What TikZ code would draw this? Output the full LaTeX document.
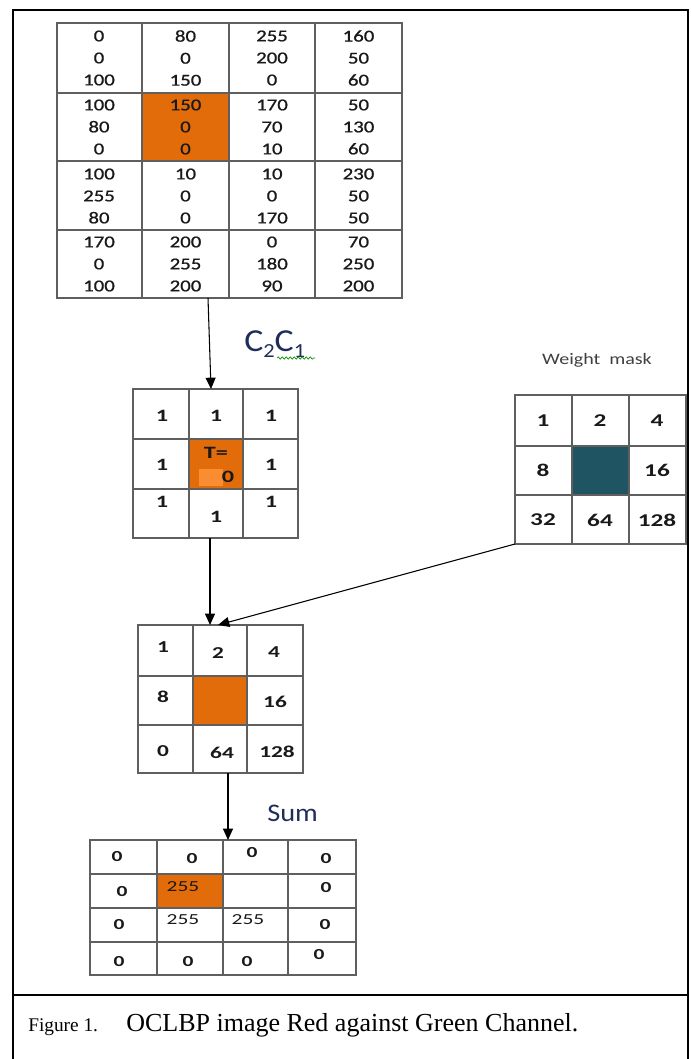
\documentclass[tikz,border=0pt]{standalone}
\usepackage{fontspec}
\usetikzlibrary{arrows.meta,decorations.pathmorphing}
\setmainfont{Liberation Serif}
\newfontfamily\calA[FakeStretch=1.25]{Carlito}
\newfontfamily\calT[FakeStretch=1.25,FakeBold=0.9]{Carlito}
\newfontfamily\calB[FakeStretch=1.4]{Carlito}
\newfontfamily\calC[FakeStretch=1.12]{Carlito}
\definecolor{orng}{RGB}{227,108,10}
\definecolor{lorng}{RGB}{250,140,50}
\definecolor{teal2}{RGB}{31,85,99}
\definecolor{gline}{RGB}{95,95,95}
\definecolor{navy}{RGB}{31,45,90}
\definecolor{txt}{RGB}{25,25,25}
\tikzset{
  gridline/.style={draw=gline,line width=1.1pt},
  topnum/.style={font=\calT\fontsize{12.5}{16.5}\selectfont,text=txt,align=center,inner sep=0pt},
  boldnum/.style={font=\calB\bfseries\fontsize{12.5}{14}\selectfont,text=txt,inner sep=0pt},
  midnum/.style={font=\calB\bfseries\fontsize{13}{15}\selectfont,text=txt,inner sep=0pt},
  bignum/.style={font=\calB\bfseries\fontsize{13.5}{16}\selectfont,text=txt,inner sep=0pt},
  smallnum/.style={font=\calB\bfseries\fontsize{11.5}{13}\selectfont,text=txt,inner sep=0pt},
  smallreg/.style={font=\calB\fontsize{11.5}{13}\selectfont,text=txt,inner sep=0pt},
  flow/.style={draw=black,line width=0.8pt,-{Triangle[length=8.5pt,width=7.5pt]}},
  frame/.style={draw=black,line width=1.6pt}
}
\begin{document}
\begin{tikzpicture}[x=0.75pt,y=-0.75pt]
\useasboundingbox (0,0) rectangle (691,1059);
% outer frame and caption divider
\draw[frame] (13,1059) -- (13,10) -- (688,10) -- (688,1059);
\draw[frame] (13,995) -- (688,995);
\node[anchor=base west,inner sep=0pt,font=\fontsize{14.5}{18}\selectfont] (figlab) at (28,1031) {Figure 1.};
\node[anchor=base west,inner sep=0pt,font=\fontsize{19.5}{23}\selectfont] (captxt) at (126,1031) {OCLBP image Red against Green Channel.};

% ---------- top grid (A) ----------
\fill[orng] (142,93) rectangle (229,161);
\draw[gridline] (57,23) rectangle (402,298);
\foreach \x in {142,229,315} \draw[gridline] (\x,23) -- (\x,298);
\foreach \y in {93,161,230} \draw[gridline] (57,\y) -- (402,\y);
\foreach \t [count=\i] in {{0\\0\\100},{80\\0\\150},{255\\200\\0},{160\\50\\60}}
  \node[topnum] (a1\i) at ({99+(\i-1)*86.5},58) {\t};
\foreach \t [count=\i] in {{100\\80\\0},{150\\0\\0},{170\\70\\10},{50\\130\\60}}
  \node[topnum] (a2\i) at ({99+(\i-1)*86.5},127) {\t};
\foreach \t [count=\i] in {{100\\255\\80},{10\\0\\0},{10\\0\\170},{230\\50\\50}}
  \node[topnum] (a3\i) at ({99+(\i-1)*86.5},196) {\t};
\foreach \t [count=\i] in {{170\\0\\100},{200\\255\\200},{0\\180\\90},{70\\250\\200}}
  \node[topnum] (a4\i) at ({99+(\i-1)*86.5},264) {\t};
\coordinate (Aout) at (208,298);

% ---------- middle grid (B) ----------
\fill[orng] (189,439) rectangle (243,489);
\fill[lorng] (199,469) rectangle (223,486);
\draw[gridline] (133,389) rectangle (298,538);
\foreach \x in {189,243} \draw[gridline] (\x,389) -- (\x,538);
\foreach \y in {439,489} \draw[gridline] (133,\y) -- (298,\y);
\node[midnum] (b11) at (162,416) {1};
\node[midnum] (b12) at (216,416) {1};
\node[midnum] (b13) at (271,416) {1};
\node[midnum] (b21) at (162,465) {1};
\node[midnum] (b22) at (216,453) {T=};
\node[midnum] (b22b) at (228,477) {0};
\node[midnum] (b23) at (271,465) {1};
\node[midnum] (b31) at (162,502) {1};
\node[midnum] (b32) at (216,517) {1};
\node[midnum] (b33) at (271,502) {1};
\coordinate (Bin) at (211,389);
\coordinate (Bout) at (210,538);
\node[anchor=base west,inner sep=0pt,text=navy,font=\calC\fontsize{24}{28}\selectfont] (c21) at (244,351) {C\raisebox{-0.4ex}{\fontsize{15}{16}\selectfont 2}C\raisebox{-0.4ex}{\fontsize{15}{16}\selectfont 1}};
\draw[green!55!black,line width=0.5pt,decorate,decoration={snake,amplitude=0.9pt,segment length=3pt}] (277,358) -- (315,358);

% ---------- weight mask (W) ----------
\node[text=black!75,inner sep=0pt,font=\calA\fontsize{12}{14}\selectfont] (wlab) at (597,360) {Weight\ \ mask};
\fill[teal2] (572,446) rectangle (629,495);
\draw[gridline] (515,395) rectangle (686,544);
\foreach \x in {572,629} \draw[gridline] (\x,395) -- (\x,544);
\foreach \y in {446,495} \draw[gridline] (515,\y) -- (686,\y);
\node[bignum] (w11) at (543,421) {1};
\node[bignum] (w12) at (600,421) {2};
\node[bignum] (w13) at (657,421) {4};
\node[bignum] (w21) at (543,470) {8};
\node[bignum] (w23) at (657,470) {16};
\node[bignum] (w31) at (543,520) {32};
\node[bignum] (w32) at (600,520) {64};
\node[bignum] (w33) at (657,520) {128};
\coordinate (Wout) at (515,544);

% ---------- third grid (D) ----------
\fill[orng] (193,676) rectangle (247,725);
\draw[gridline] (138,625) rectangle (303,773);
\foreach \x in {193,247} \draw[gridline] (\x,625) -- (\x,773);
\foreach \y in {676,725} \draw[gridline] (138,\y) -- (303,\y);
\node[boldnum] (d11) at (163,647) {1};
\node[boldnum] (d12) at (218,653) {2};
\node[boldnum] (d13) at (274,652) {4};
\node[boldnum] (d21) at (163,697) {8};
\node[boldnum] (d23) at (275,702) {16};
\node[boldnum] (d31) at (163,751) {0};
\node[boldnum] (d32) at (222,753) {64};
\node[boldnum] (d33) at (277,752) {128};
\coordinate (Din) at (210,625);
\coordinate (Din2) at (218,625);
\coordinate (Dout) at (228,773);
\node[anchor=base west,inner sep=0pt,text=navy,font=\calC\fontsize{19}{22}\selectfont] (sum) at (267,821) {Sum};

% ---------- bottom grid (E) ----------
\fill[orng] (157,874) rectangle (223,908);
\draw[gridline] (90,840) rectangle (356,975);
\foreach \x in {157,223,288} \draw[gridline] (\x,840) -- (\x,975);
\foreach \y in {874,908,942} \draw[gridline] (90,\y) -- (356,\y);
\node[smallnum] (e11) at (117,857) {0};
\node[smallnum] (e12) at (192,859) {0};
\node[smallnum] (e13) at (252,853) {0};
\node[smallnum] (e14) at (326,859) {0};
\node[smallnum] (e21) at (122,892) {0};
\node[smallreg] (e22) at (183,887) {255};
\node[smallnum] (e24) at (326,888) {0};
\node[smallnum] (e31) at (119,925) {0};
\node[smallreg] (e32) at (183,920) {255};
\node[smallreg] (e33) at (248,920) {255};
\node[smallnum] (e34) at (325,925) {0};
\node[smallnum] (e41) at (119,962) {0};
\node[smallnum] (e42) at (188,962) {0};
\node[smallnum] (e43) at (247,962) {0};
\node[smallnum] (e44) at (319,955) {0};
\coordinate (Ein) at (228,840);

% ---------- connectors ----------
\draw[flow] (Aout) -- (Bin);
\draw[flow] (Bout) -- (Din);
\draw[flow] (Wout) -- (Din2);
\draw[flow] (Dout) -- (Ein);
\end{tikzpicture}
\end{document}
